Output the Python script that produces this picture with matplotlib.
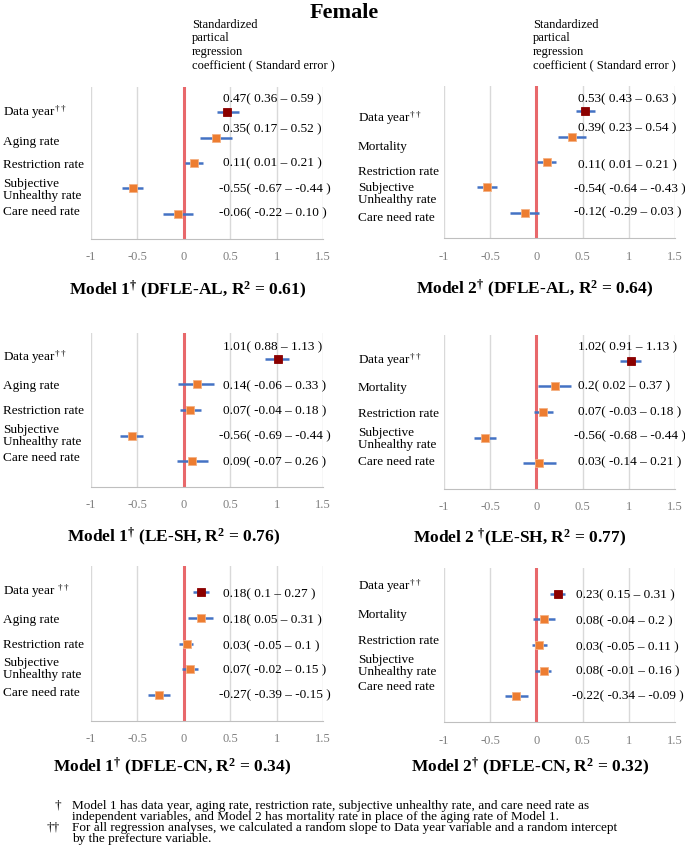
import numpy as np
import matplotlib
matplotlib.use("Agg")
import matplotlib.pyplot as plt

plt.rcParams["font.family"] = ["Liberation Serif", "DejaVu Serif"]
plt.rcParams["mathtext.fontset"] = "custom"
plt.rcParams["mathtext.rm"] = "Liberation Serif"
plt.rcParams["mathtext.it"] = "Liberation Serif:italic"
plt.rcParams["mathtext.bf"] = "Liberation Serif:bold"

# ---- data ----
vars_model1 = ["Data year$^{\\dagger\\dagger}$", "Aging rate", "Restriction rate",
               "Subjective\nUnhealthy rate", "Care need rate"]
vars_model2 = ["Data year$^{\\dagger\\dagger}$", "Mortality", "Restriction rate",
               "Subjective\nUnhealthy rate", "Care need rate"]
vars_model1_cn = ["Data year $^{\\dagger\\dagger}$"] + vars_model1[1:]

# coefficient, lower and upper bound as printed
coef_al1 = ["0.47", "0.35", "0.11", "-0.55", "-0.06"]
low_al1 = ["0.36", "0.17", "0.01", "-0.67", "-0.22"]
high_al1 = ["0.59", "0.52", "0.21", "-0.44", "0.10"]

coef_al2 = ["0.53", "0.39", "0.11", "-0.54", "-0.12"]
low_al2 = ["0.43", "0.23", "0.01", "-0.64", "-0.29"]
high_al2 = ["0.63", "0.54", "0.21", "-0.43", "0.03"]

coef_sh1 = ["1.01", "0.14", "0.07", "-0.56", "0.09"]
low_sh1 = ["0.88", "-0.06", "-0.04", "-0.69", "-0.07"]
high_sh1 = ["1.13", "0.33", "0.18", "-0.44", "0.26"]

coef_sh2 = ["1.02", "0.2", "0.07", "-0.56", "0.03"]
low_sh2 = ["0.91", "0.02", "-0.03", "-0.68", "-0.14"]
high_sh2 = ["1.13", "0.37", "0.18", "-0.44", "0.21"]

coef_cn1 = ["0.18", "0.18", "0.03", "0.07", "-0.27"]
low_cn1 = ["0.1", "0.05", "-0.05", "-0.02", "-0.39"]
high_cn1 = ["0.27", "0.31", "0.1", "0.15", "-0.15"]

coef_cn2 = ["0.23", "0.08", "0.03", "0.08", "-0.22"]
low_cn2 = ["0.15", "-0.04", "-0.05", "-0.01", "-0.34"]
high_cn2 = ["0.31", "0.2", "0.11", "0.16", "-0.09"]

titles = [
    "Model 1$^{\\mathbf{\\dagger}}$ (DFLE-AL, R$^{\\mathbf{2}}$ = 0.61)",
    "Model 2$^{\\mathbf{\\dagger}}$ (DFLE-AL, R$^{\\mathbf{2}}$ = 0.64)",
    "Model 1$^{\\mathbf{\\dagger}}$ (LE-SH, R$^{\\mathbf{2}}$ = 0.76)",
    "Model 2 $^{\\mathbf{\\dagger}}$(LE-SH, R$^{\\mathbf{2}}$ = 0.77)",
    "Model 1$^{\\mathbf{\\dagger}}$ (DFLE-CN, R$^{\\mathbf{2}}$ = 0.34)",
    "Model 2$^{\\mathbf{\\dagger}}$ (DFLE-CN, R$^{\\mathbf{2}}$ = 0.32)",
]

# ---- layout (pixels in a 685 x 857 image) ----
W, H = 685, 857
# left, top, right, bottom of each plot area
boxes = [(91, 87, 323, 239), (444, 86, 675, 238),
         (91, 333, 323, 487), (444, 335, 675, 489),
         (91, 566, 323, 721), (444, 568, 675, 722)]
label_x = [3, 358, 3, 358, 3, 358]
value_x = [223, 578, 223, 578, 223, 576]
# vertical shifts (px, downward) of printed values and of row labels
value_dy = [[-13, -8, 0, 1, 0], [-12, -8, 3, 2, 0], [-11, 2, 1, 1, 1],
            [-13, 0, 0, -1, -1], [2, 3, 3, 1, 0], [2, 2, 2, 1, 0]]
label_dy = [[0, 4, 2, 2, -2], [7, 10, 10, 7, 5], [-1, 2, 1, 0, -3],
            [0, 2, 2, 1, -1], [-1, 2, 2, 0, -2], [-7, -4, -4, -5, -9]]
title_xy = [(188, 290), (535, 289), (174, 537), (520, 538), (172, 767), (530, 767)]

panels = [
    (vars_model1, coef_al1, low_al1, high_al1),
    (vars_model2, coef_al2, low_al2, high_al2),
    (vars_model1, coef_sh1, low_sh1, high_sh1),
    (vars_model2, coef_sh2, low_sh2, high_sh2),
    (vars_model1_cn, coef_cn1, low_cn1, high_cn1),
    (vars_model2, coef_cn2, low_cn2, high_cn2),
]

ORANGE = "#ed7d31"
DARKRED = "#8b0000"
BLUE = "#4472c4"
ZERO = "#e8686b"
GRID = "#d9d9d9"

fig = plt.figure(figsize=(W / 100, H / 100), dpi=100)


def fx(px):
    return px / W


def fy(py):
    return 1 - py / H


fig.text(fx(344), fy(13), "Female", ha="center", va="center",
         fontsize=16, fontweight="bold")
header = "Standardized\npartical\nregression\ncoefficient ( Standard error )"
for hx in (192, 533):
    fig.text(fx(hx), fy(19), header, ha="left", va="top", fontsize=9,
             linespacing=1.16)

for i, (names, coef_s, low_s, high_s) in enumerate(panels):
    l, t, r, b = boxes[i]
    ax = fig.add_axes([fx(l), fy(b), fx(r - l), (b - t) / H])
    coef = np.array([float(v) for v in coef_s])
    low = np.array([float(v) for v in low_s])
    high = np.array([float(v) for v in high_s])
    ypos = np.arange(len(coef), 0, -1)

    ax.set_xlim(-1, 1.5)
    ax.set_ylim(0, len(coef) + 1)
    ax.set_xticks([-1, -0.5, 0, 0.5, 1, 1.5])
    ax.set_xticklabels(["-1", "-0.5", "0", "0.5", "1", "1.5"])
    ax.set_yticks([])
    ax.tick_params(axis="x", length=0, pad=9, labelsize=9, labelcolor="#7f7f7f")
    for s in ("top", "right", "left"):
        ax.spines[s].set_visible(False)
    ax.spines["bottom"].set_color("#bfbfbf")
    ax.grid(axis="x", color=GRID, lw=1)
    ax.set_axisbelow(True)

    ax.axvline(0, color=ZERO, lw=2.2, zorder=1)
    ax.hlines(ypos, low, high, color=BLUE, lw=1.8, zorder=2)
    colors = [DARKRED] + [ORANGE] * (len(coef) - 1)
    for j in range(len(coef)):
        ax.plot(coef[j], ypos[j], "s", ms=5.5, mfc=colors[j],
                mec="#f4b183" if j else DARKRED, mew=0.6, zorder=3)
        txt = f"{coef_s[j]}( {low_s[j]} – {high_s[j]} )"
        shift = -4 if coef[j] < 0 else 0
        ax.annotate(txt, xy=(fx(value_x[i]), ypos[j]),
                    xycoords=("figure fraction", "data"),
                    xytext=(shift, -value_dy[i][j]), textcoords="offset pixels",
                    ha="left", va="center", fontsize=9.5, annotation_clip=False)
        ax.annotate(names[j], xy=(fx(label_x[i]), ypos[j]),
                    xycoords=("figure fraction", "data"),
                    xytext=(0, -label_dy[i][j]), textcoords="offset pixels",
                    ha="left", va="center", fontsize=9.5, linespacing=1.0,
                    annotation_clip=False)

    tx, ty = title_xy[i]
    fig.text(fx(tx), fy(ty), titles[i], ha="center", va="center",
             fontsize=12.5, fontweight="bold")

# footnotes
notes = [
    (55, 806, "†"),
    (72, 806, "Model 1 has data year, aging rate, restriction rate, subjective unhealthy rate, and care need rate as"),
    (72, 817, "independent variables, and Model 2 has mortality rate in place of the aging rate of Model 1."),
    (47, 828, "††"),
    (72, 828, "For all regression analyses, we calculated a random slope to Data year variable and a random intercept"),
    (72, 839, "by the prefecture variable."),
]
for nx, ny, s in notes:
    fig.text(fx(nx), fy(ny), s, ha="left", va="center", fontsize=9.5)

fig.savefig("out.png", dpi=100)
